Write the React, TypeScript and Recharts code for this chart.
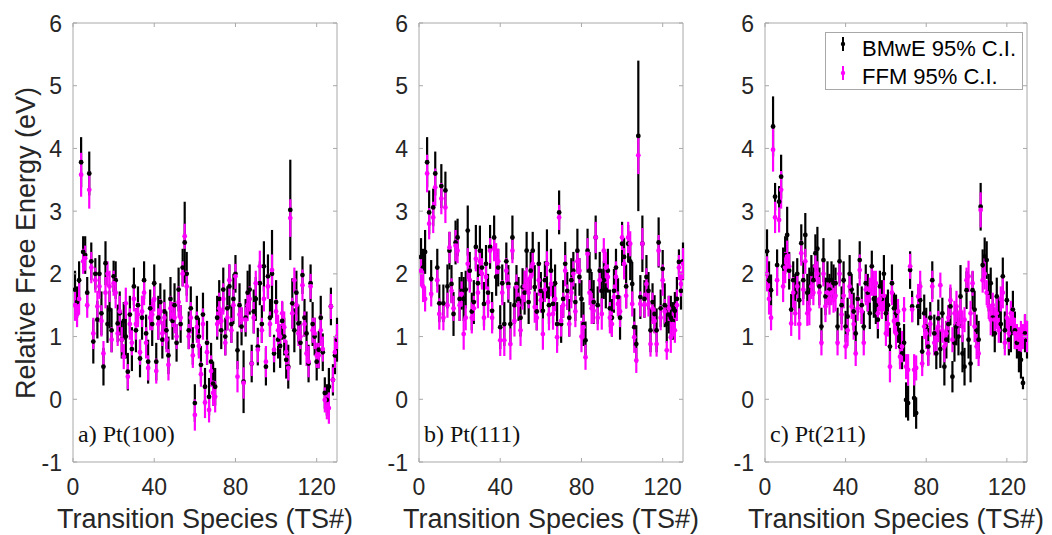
import { ScatterChart, Scatter, XAxis, YAxis, ErrorBar, ReferenceArea, Legend } from 'recharts';

// tick labels, panel names, legend names
const xTicks = [0, 40, 80, 120];
const yTicks = [-1, 0, 1, 2, 3, 4, 5, 6];
const panelNames = ['a) Pt(100)', 'b) Pt(111)', 'c) Pt(211)'];
const seriesNames = ['BMwE 95% C.I.', 'FFM 95% C.I.'];

// Pt(100)
const bmwe100 = [
  1.75, 1.55, 1.9, 3.78, 2.35, 2.3, 1.7, 3.6, 2.2, 0.92,
  2.0, 1.27, 2.0, 1.37, 0.52, 2.17, 1.2, 1.43, 1.1, 1.96,
  1.9, 1.21, 1.37, 0.95, 1.25, 1.0, 0.44, 1.35, 0.8, 1.8,
  1.1, 1.5, 0.65, 1.3, 1.9, 1.05, 0.6, 1.45, 1.2, 1.85,
  0.6, 1.3, 1.55, 0.95, 1.4, 1.1, 0.7, 1.6, 1.25, 1.5,
  0.9, 1.75, 1.2, 2.1, 2.5, 2.0, 1.1, 1.45, 0.85, -0.06,
  1.3, 1.0, 0.55, 1.35, 0.2, 0.9, 0.04, 0.6, 0.25, 0.2,
  1.3, 1.6, 1.1, 1.75, 1.0, 1.45, 1.8, 1.2, 1.6, 2.0,
  0.78, 1.5, 1.16, 0.28, 1.3, 1.7, 1.75, 0.57, 1.4, 1.6,
  0.84, 1.85, 1.2, 2.12, 0.52, 1.96, 1.3, 2.0, 0.73, 1.55,
  0.95, 0.85, 1.25, 1.0, 0.63, 0.52, 3.02, 1.53, 1.1, 1.7,
  1.21, 0.9, 1.98, 1.3, 1.05, 0.57, 1.85, 1.2, 1.0, 0.6,
  0.79, 1.3, 0.75, 0.1, -0.01, 0.2, 1.48, 0.31, 0.7, 0.95,
];
const ffm100 = [
  1.5, 1.35, 1.6, 3.58, 2.2, 2.25, 1.5, 3.34, 2.1, 1.05,
  1.9, 1.48, 1.8, 1.25, 0.73, 1.7, 2.0, 1.8, 0.95, 1.85,
  1.7, 1.05, 1.4, 0.95, 0.68, 1.53, 0.36, 1.2, 0.9, 1.6,
  1.2, 1.35, 0.75, 1.4, 1.7, 0.9, 0.5, 1.3, 1.35, 1.6,
  0.45, 1.2, 1.4, 1.05, 1.3, 0.95, 0.55, 1.45, 1.35, 1.3,
  1.0, 1.55, 1.3, 2.0, 2.6, 1.8, 1.0, 1.3, 0.7, -0.25,
  1.15, 0.85, 0.4, 1.2, -0.05, 0.75, -0.17, 0.45, 0.1, 0.04,
  1.2, 1.45, 1.25, 1.6, 0.9, 1.3, 1.9, 1.1, 1.5, 1.96,
  0.36, 1.35, 1.27, 0.26, 1.27, 1.5, 1.6, 0.57, 1.3, 1.85,
  0.79, 2.12, 1.1, 1.6, 0.6, 1.8, 1.2, 2.06, 0.79, 1.4,
  1.1, 1.0, 1.37, 1.15, 0.75, 0.5, 2.89, 1.37, 1.9, 1.5,
  1.05, 1.0, 1.82, 1.2, 0.73, 0.6, 1.8, 1.1, 1.05, 0.7,
  0.7, 1.1, 0.8, -0.01, -0.12, -0.14, 1.48, 0.31, 0.75, 1.0,
];
const bmwe100Err = [
  0.3, 0.25, 0.3, 0.4, 0.25, 0.3, 0.25, 0.35, 0.3, 0.35,
  0.25, 0.3, 0.3, 0.35, 0.3, 0.35, 0.3, 0.3, 0.35, 0.25,
  0.3, 0.3, 0.35, 0.3, 0.3, 0.35, 0.3, 0.3, 0.35, 0.3,
  0.35, 0.3, 0.3, 0.35, 0.3, 0.3, 0.35, 0.3, 0.35, 0.3,
  0.3, 0.35, 0.3, 0.3, 0.35, 0.3, 0.3, 0.35, 0.3, 0.35,
  0.3, 0.35, 0.3, 0.3, 0.65, 0.35, 0.3, 0.35, 0.3, 0.3,
  0.35, 0.3, 0.3, 0.35, 0.3, 0.35, 0.3, 0.3, 0.35, 0.3,
  0.35, 0.3, 0.3, 0.35, 0.3, 0.35, 0.35, 0.3, 0.4, 0.3,
  0.3, 0.35, 0.3, 0.5, 0.3, 0.35, 0.4, 0.3, 0.35, 0.35,
  0.3, 0.35, 0.3, 0.4, 0.3, 0.35, 0.3, 0.7, 0.3, 0.35,
  0.3, 0.35, 0.3, 0.3, 0.3, 0.35, 0.8, 0.4, 0.35, 0.35,
  0.3, 0.35, 0.3, 0.3, 0.35, 0.3, 0.3, 0.35, 0.3, 0.3,
  0.3, 0.35, 0.3, 0.25, 0.25, 0.3, 0.3, 0.25, 0.3, 0.35,
];
const ffm100Err = [
  0.25, 0.2, 0.25, 0.35, 0.2, 0.2, 0.2, 0.3, 0.25, 0.25,
  0.2, 0.25, 0.2, 0.25, 0.2, 0.25, 0.2, 0.25, 0.2, 0.2,
  0.25, 0.2, 0.25, 0.2, 0.2, 0.25, 0.2, 0.25, 0.2, 0.2,
  0.25, 0.2, 0.2, 0.25, 0.2, 0.25, 0.2, 0.2, 0.25, 0.2,
  0.2, 0.25, 0.2, 0.2, 0.25, 0.2, 0.25, 0.2, 0.2, 0.25,
  0.2, 0.25, 0.2, 0.2, 0.2, 0.25, 0.2, 0.25, 0.2, 0.25,
  0.25, 0.2, 0.2, 0.25, 0.25, 0.2, 0.2, 0.25, 0.2, 0.25,
  0.2, 0.25, 0.2, 0.25, 0.2, 0.2, 0.25, 0.2, 0.25, 0.2,
  0.25, 0.2, 0.2, 0.25, 0.2, 0.25, 0.2, 0.2, 0.25, 0.2,
  0.2, 0.25, 0.2, 0.2, 0.25, 0.2, 0.2, 0.25, 0.2, 0.2,
  0.25, 0.2, 0.2, 0.25, 0.2, 0.2, 0.3, 0.25, 0.2, 0.25,
  0.2, 0.2, 0.25, 0.2, 0.2, 0.25, 0.2, 0.2, 0.25, 0.2,
  0.2, 0.25, 0.2, 0.2, 0.2, 0.25, 0.2, 0.2, 0.25, 0.2,
];

// Pt(111)
const bmwe111 = [
  2.27, 2.1, 2.35, 3.78, 2.98, 1.92, 3.06, 3.6, 2.1, 1.53,
  3.4, 1.53, 3.33, 1.8, 2.37, 1.84, 1.36, 2.5, 2.58, 1.6,
  1.73, 1.6, 1.75, 2.69, 2.05, 1.4, 1.55, 2.43, 1.85, 2.37,
  2.1, 1.52, 2.16, 1.7, 2.43, 1.41, 2.58, 1.95, 2.1, 1.15,
  1.85, 1.2, 2.2, 1.84, 1.2, 2.58, 1.5, 1.84, 1.6, 1.3,
  1.79, 1.7, 2.37, 1.55, 2.05, 2.37, 1.79, 1.4, 2.16, 1.73,
  1.41, 1.9, 2.16, 1.5, 2.05, 1.52, 1.85, 1.2, 2.98, 1.2,
  1.6, 2.16, 1.73, 1.3, 1.9, 2.05, 1.55, 2.37, 1.95, 1.6,
  1.2, 0.94, 2.37, 2.05, 1.73, 1.55, 2.58, 1.5, 2.05, 1.73,
  1.9, 1.75, 2.05, 1.45, 1.3, 1.73, 2.1, 1.63, 1.3, 2.48,
  2.27, 1.8, 2.48, 2.2, 1.84, 1.15, 0.88, 4.2, 1.63, 2.48,
  1.6, 1.95, 1.73, 1.1, 1.55, 1.36, 1.1, 2.5, 1.45, 2.08,
  1.5, 1.2, 1.35, 1.3, 1.25, 1.41, 1.6, 2.19, 1.73, 2.2,
];
const ffm111 = [
  2.05, 1.8, 1.6, 3.6, 2.8, 1.68, 2.9, 3.38, 1.9, 1.36,
  3.2, 1.3, 3.06, 1.5, 2.42, 1.73, 1.45, 2.45, 2.37, 1.5,
  1.68, 1.04, 1.3, 2.16, 1.9, 1.3, 1.45, 2.24, 1.7, 2.2,
  2.0, 1.3, 1.95, 1.55, 2.37, 1.3, 2.4, 2.24, 2.2, 0.94,
  1.7, 0.94, 2.05, 1.79, 0.88, 2.37, 1.25, 1.79, 1.5, 1.1,
  1.63, 1.8, 1.9, 1.7, 1.95, 2.16, 1.47, 1.3, 1.9, 1.58,
  1.04, 1.75, 2.16, 1.35, 1.84, 1.36, 1.6, 0.99, 2.9, 1.25,
  1.5, 2.05, 1.63, 1.2, 1.7, 2.0, 1.4, 2.2, 2.05, 1.0,
  1.15, 0.67, 2.32, 1.7, 1.45, 1.41, 2.58, 1.3, 1.9, 1.36,
  2.37, 2.1, 1.95, 1.3, 1.2, 1.63, 1.95, 1.52, 1.4, 2.58,
  2.16, 1.65, 2.58, 2.48, 1.52, 0.99, 0.62, 3.89, 1.52, 2.48,
  1.5, 1.84, 1.52, 0.88, 1.45, 1.25, 0.88, 2.37, 1.3, 1.9,
  1.4, 0.78, 1.45, 0.99, 1.2, 1.1, 1.5, 2.1, 1.84, 2.16,
];
const bmwe111Err = [
  0.3, 0.3, 0.35, 0.4, 0.35, 0.3, 0.3, 0.35, 0.3, 0.3,
  0.35, 0.3, 0.3, 0.35, 0.3, 0.3, 0.35, 0.35, 0.3, 0.35,
  0.3, 0.35, 0.3, 0.4, 0.3, 0.3, 0.35, 0.35, 0.3, 0.4,
  0.3, 0.35, 0.3, 0.3, 0.35, 0.3, 0.35, 0.3, 0.3, 0.35,
  0.3, 0.35, 0.3, 0.3, 0.35, 0.35, 0.3, 0.3, 0.35, 0.3,
  0.3, 0.35, 0.3, 0.35, 0.3, 0.3, 0.35, 0.3, 0.35, 0.3,
  0.35, 0.3, 0.55, 0.3, 0.35, 0.3, 0.3, 0.35, 0.35, 0.3,
  0.3, 0.35, 0.3, 0.3, 0.35, 0.3, 0.3, 0.35, 0.3, 0.3,
  0.35, 0.3, 0.35, 0.3, 0.3, 0.35, 0.35, 0.3, 0.3, 0.35,
  0.3, 0.3, 0.35, 0.3, 0.3, 0.35, 0.3, 0.3, 0.35, 0.35,
  0.3, 0.35, 0.3, 0.3, 0.35, 0.3, 0.3, 1.2, 0.35, 0.45,
  0.3, 0.35, 0.3, 0.35, 0.3, 0.3, 0.35, 0.4, 0.3, 0.3,
  0.35, 0.3, 0.3, 0.35, 0.3, 0.3, 0.35, 0.2, 0.3, 0.3,
];
const ffm111Err = [
  0.25, 0.25, 0.2, 0.3, 0.25, 0.2, 0.25, 0.3, 0.2, 0.25,
  0.25, 0.2, 0.25, 0.2, 0.25, 0.2, 0.2, 0.25, 0.2, 0.25,
  0.2, 0.25, 0.2, 0.25, 0.2, 0.25, 0.2, 0.2, 0.25, 0.2,
  0.25, 0.2, 0.2, 0.25, 0.2, 0.25, 0.2, 0.25, 0.2, 0.25,
  0.2, 0.25, 0.2, 0.2, 0.25, 0.2, 0.25, 0.2, 0.2, 0.25,
  0.2, 0.25, 0.2, 0.25, 0.2, 0.2, 0.25, 0.2, 0.25, 0.2,
  0.25, 0.2, 0.2, 0.25, 0.2, 0.25, 0.2, 0.25, 0.2, 0.25,
  0.2, 0.25, 0.2, 0.2, 0.25, 0.2, 0.25, 0.2, 0.2, 0.25,
  0.2, 0.2, 0.25, 0.2, 0.25, 0.2, 0.25, 0.2, 0.2, 0.25,
  0.2, 0.25, 0.2, 0.25, 0.2, 0.2, 0.25, 0.2, 0.25, 0.2,
  0.25, 0.2, 0.25, 0.2, 0.2, 0.25, 0.2, 0.3, 0.2, 0.25,
  0.2, 0.25, 0.2, 0.2, 0.25, 0.2, 0.2, 0.25, 0.2, 0.25,
  0.2, 0.15, 0.2, 0.25, 0.2, 0.2, 0.25, 0.2, 0.2, 0.25,
];

// Pt(211)
const bmwe211 = [
  2.36, 1.9, 1.74, 4.35, 3.23, 2.14, 3.15, 3.55, 2.12, 2.3,
  2.62, 2.05, 1.43, 1.9, 1.7, 2.0, 1.58, 2.49, 1.9, 2.62,
  1.7, 1.8, 2.0, 1.9, 2.33, 2.4, 1.8, 1.16, 2.22, 1.64,
  1.9, 1.75, 1.9, 1.85, 1.85, 1.16, 2.2, 1.5, 1.9, 1.16,
  1.32, 2.0, 1.75, 1.4, 1.05, 1.6, 2.22, 1.5, 1.16, 1.85,
  1.7, 1.37, 2.12, 1.6, 1.5, 1.27, 1.8, 1.6, 2.0, 1.37,
  1.5, 0.84, 1.85, 1.45, 1.37, 1.2, 0.84, 0.73, 0.9, -0.01,
  -0.06, 2.06, 1.48, 0.02, -0.22, 1.48, 1.58, 0.76, 1.37, 1.16,
  0.84, 1.3, 1.9, 1.05, 0.73, 1.29, 0.8, 1.37, 0.52, 0.95,
  1.2, 1.48, 0.36, 0.9, 1.16, 1.0, 1.64, 0.73, 0.52, 1.74,
  0.95, 0.57, 1.74, 1.43, 1.1, 0.95, 3.07, 2.14, 2.28, 2.22,
  1.7, 1.85, 1.3, 1.05, 1.64, 1.37, 1.2, 1.96, 1.1, 1.58,
  0.95, 1.05, 1.43, 1.1, 0.9, 0.73, 0.63, 0.26, 1.05, 0.95,
];
const ffm211 = [
  2.0, 1.6, 1.3, 3.98, 2.9, 1.9, 2.86, 3.34, 1.8, 2.1,
  2.28, 2.12, 1.21, 1.7, 1.37, 1.8, 1.2, 2.33, 1.75, 2.2,
  1.37, 1.43, 1.8, 1.7, 2.12, 2.0, 1.7, 0.9, 2.0, 1.48,
  1.7, 1.6, 1.7, 1.58, 1.65, 0.9, 2.0, 1.35, 1.65, 0.84,
  1.1, 1.8, 1.48, 1.2, 0.73, 1.45, 2.06, 1.4, 0.9, 1.75,
  1.6, 1.74, 1.9, 1.85, 1.85, 1.37, 1.6, 1.48, 1.65, 1.05,
  1.2, 0.52, 1.7, 1.25, 1.05, 1.4, 0.68, 0.84, 1.43, 0.52,
  0.47, 2.12, 1.43, 0.47, 0.5, 1.64, 1.8, 0.57, 1.16, 1.05,
  0.73, 1.2, 1.8, 0.9, 0.95, 1.16, 1.82, 1.1, 0.84, 1.05,
  1.3, 1.58, 0.95, 1.37, 1.48, 1.2, 1.4, 1.16, 1.27, 1.9,
  1.96, 1.37, 1.85, 1.16, 0.84, 0.73, 3.02, 1.9, 2.0, 1.7,
  1.48, 1.27, 1.5, 1.27, 1.37, 1.1, 1.6, 1.7, 0.9, 1.3,
  1.05, 1.37, 1.27, 1.05, 1.0, 0.95, 1.0, 1.0, 1.16, 1.0,
];
const bmwe211Err = [
  0.35, 0.3, 0.25, 0.48, 0.22, 0.25, 0.25, 0.35, 0.3, 0.3,
  0.45, 0.3, 0.25, 0.3, 0.3, 0.25, 0.3, 0.3, 0.3, 0.35,
  0.3, 0.3, 0.3, 0.25, 0.3, 0.35, 0.3, 0.3, 0.35, 0.3,
  0.3, 0.25, 0.3, 0.3, 0.25, 0.3, 0.35, 0.3, 0.3, 0.25,
  0.3, 0.3, 0.25, 0.3, 0.3, 0.25, 0.3, 0.3, 0.25, 0.3,
  0.3, 0.25, 0.25, 0.3, 0.3, 0.3, 0.25, 0.3, 0.3, 0.3,
  0.25, 0.3, 0.3, 0.25, 0.3, 0.3, 0.3, 0.25, 0.3, 0.28,
  0.28, 0.3, 0.25, 0.3, 0.25, 0.3, 0.3, 0.25, 0.3, 0.3,
  0.3, 0.25, 0.3, 0.3, 0.25, 0.3, 0.3, 0.25, 0.3, 0.3,
  0.3, 0.3, 0.25, 0.3, 0.3, 0.3, 0.5, 0.3, 0.3, 0.3,
  0.3, 0.3, 0.3, 0.3, 0.25, 0.3, 0.38, 0.25, 0.3, 0.3,
  0.3, 0.25, 0.3, 0.3, 0.3, 0.25, 0.3, 0.3, 0.3, 0.3,
  0.25, 0.3, 0.3, 0.3, 0.25, 0.3, 0.3, 0.1, 0.3, 0.3,
];
const ffm211Err = [
  0.28, 0.25, 0.2, 0.35, 0.25, 0.25, 0.2, 0.3, 0.25, 0.25,
  0.25, 0.2, 0.2, 0.25, 0.2, 0.2, 0.25, 0.2, 0.25, 0.2,
  0.2, 0.25, 0.2, 0.2, 0.25, 0.2, 0.25, 0.2, 0.2, 0.25,
  0.2, 0.25, 0.2, 0.2, 0.25, 0.2, 0.2, 0.25, 0.2, 0.2,
  0.25, 0.2, 0.2, 0.25, 0.2, 0.2, 0.25, 0.2, 0.2, 0.25,
  0.2, 0.2, 0.25, 0.2, 0.2, 0.25, 0.2, 0.2, 0.25, 0.2,
  0.2, 0.25, 0.2, 0.2, 0.25, 0.2, 0.2, 0.25, 0.2, 0.2,
  0.25, 0.2, 0.2, 0.25, 0.2, 0.2, 0.25, 0.2, 0.2, 0.25,
  0.2, 0.2, 0.25, 0.2, 0.2, 0.25, 0.2, 0.2, 0.25, 0.2,
  0.2, 0.25, 0.2, 0.2, 0.25, 0.2, 0.2, 0.25, 0.2, 0.2,
  0.25, 0.2, 0.2, 0.25, 0.2, 0.2, 0.28, 0.2, 0.25, 0.2,
  0.2, 0.25, 0.2, 0.2, 0.25, 0.2, 0.2, 0.25, 0.2, 0.2,
  0.25, 0.2, 0.2, 0.25, 0.2, 0.2, 0.25, 0.2, 0.2, 0.25,
];

const AXIS = '#a8a8a8';
const TEXT = '#262626';
const BLACK = '#000000';
const MAGENTA = '#ff00ff';
const SANS = '"Liberation Sans", Arial, Helvetica, sans-serif';
const SERIF = '"Liberation Serif", "Times New Roman", serif';

const CH_HEIGHT = 535;
const CH_WIDTH = 380; // wider than the panel step so the axis titles are not clipped
const PLOT_TOP = 23;
const PLOT_BOTTOM = 462;
const Y_AXIS_W = 73;

const toPoints = (vals: number[], errs: number[]) =>
  vals.map((v, i) => ({ x: i + 1, y: v, e: errs[i] }));

// plot width 264 (last panel 262)
const panels = [
  { left: 0, plotW: 264, b: toPoints(bmwe100, bmwe100Err), f: toPoints(ffm100, ffm100Err) },
  { left: 346, plotW: 264, b: toPoints(bmwe111, bmwe111Err), f: toPoints(ffm111, ffm111Err) },
  { left: 692, plotW: 262, b: toPoints(bmwe211, bmwe211Err), f: toPoints(ffm211, ffm211Err) },
];

const dot = (color: string) => (p: any) => <circle cx={p.cx} cy={p.cy} r={2.4} fill={color} />;

function LegendBox() {
  const colors = [BLACK, MAGENTA];
  return (
    <svg width={198} height={58} style={{ display: 'block' }}>
      <rect x={0.5} y={0.5} width={197} height={57} fill="#fff" stroke={AXIS} />
      {seriesNames.map((name, i) => {
        const cy = 12 + i * 29;
        return (
          <g key={name}>
            <line x1={18} x2={18} y1={cy - 7} y2={cy + 7} stroke={colors[i]} strokeWidth={2} />
            <circle cx={18} cy={cy} r={2.2} fill={colors[i]} />
            <text x={37} y={24 + i * 28} fontSize={22} fontFamily={SANS} fill="#000">
              {name}
            </text>
          </g>
        );
      })}
    </svg>
  );
}

function Panel({ idx }: { idx: number }) {
  const p = panels[idx];
  const plotL = Y_AXIS_W;
  const plotR = plotL + p.plotW;
  const rightMargin = CH_WIDTH - plotR;

  const yTick = (t: any) => (
    <g>
      <line x1={plotL} x2={plotL + 4} y1={t.y} y2={t.y} stroke={AXIS} />
      <line x1={plotR - 4} x2={plotR} y1={t.y} y2={t.y} stroke={AXIS} />
      <text x={plotL - 11} y={t.y + 8.5} textAnchor="end" fontSize={23} fontFamily={SANS} fill={TEXT}>
        {t.payload.value}
      </text>
    </g>
  );
  const xTick = (t: any) => (
    <g>
      <line x1={t.x} x2={t.x} y1={PLOT_BOTTOM} y2={PLOT_BOTTOM - 4} stroke={AXIS} />
      <line x1={t.x} x2={t.x} y1={PLOT_TOP} y2={PLOT_TOP + 4} stroke={AXIS} />
      <text x={t.x} y={495} textAnchor="middle" fontSize={23} fontFamily={SANS} fill={TEXT}>
        {t.payload.value}
      </text>
    </g>
  );

  return (
    <div style={{ position: 'absolute', left: p.left, top: 0 }}>
      <ScatterChart
        width={CH_WIDTH}
        height={CH_HEIGHT}
        margin={{ top: PLOT_TOP, right: rightMargin, left: 0, bottom: 0 }}
      >
        <XAxis
          type="number"
          dataKey="x"
          domain={[0, 130]}
          ticks={xTicks}
          allowDataOverflow
          height={CH_HEIGHT - PLOT_BOTTOM}
          axisLine={false}
          tickLine={false}
          tick={xTick}
          label={() => (
            <text
              x={(plotL + plotR) / 2}
              y={528}
              textAnchor="middle"
              fontSize={27}
              fontFamily={SANS}
              fill={TEXT}
            >
              Transition Species (TS#)
            </text>
          )}
        />
        <YAxis
          type="number"
          dataKey="y"
          domain={[-1, 6]}
          ticks={yTicks}
          allowDataOverflow
          width={Y_AXIS_W}
          axisLine={false}
          tickLine={false}
          tick={yTick}
          label={
            idx === 0
              ? () => (
                  <text
                    x={26}
                    y={243}
                    transform="rotate(-90, 26, 243)"
                    textAnchor="middle"
                    dominantBaseline="central"
                    fontSize={27}
                    fontFamily={SANS}
                    fill={TEXT}
                  >
                    Relative Free Energy (eV)
                  </text>
                )
              : undefined
          }
        />
        <Scatter name={seriesNames[0]} data={p.b} fill={BLACK} shape={dot(BLACK)} isAnimationActive={false}>
          <ErrorBar dataKey="e" direction="y" width={0} stroke={BLACK} strokeWidth={2.2} isAnimationActive={false} />
        </Scatter>
        <Scatter name={seriesNames[1]} data={p.f} fill={MAGENTA} shape={dot(MAGENTA)} isAnimationActive={false}>
          <ErrorBar dataKey="e" direction="y" width={0} stroke={MAGENTA} strokeWidth={2.2} isAnimationActive={false} />
        </Scatter>
        <ReferenceArea
          x1={0}
          x2={130}
          y1={-1}
          y2={6}
          fill="none"
          stroke={AXIS}
          strokeWidth={1}
          label={(lp: any) => (
            <text
              x={lp.viewBox.x + 5}
              y={lp.viewBox.y + lp.viewBox.height - 20}
              fontSize={24}
              fontFamily={SERIF}
              fill="#111"
            >
              {panelNames[idx]}
            </text>
          )}
        />
        {idx === 2 && (
          <Legend
            layout="horizontal"
            verticalAlign="middle"
            align="center"
            wrapperStyle={{ position: 'absolute', left: 133, top: 32, width: 198, height: 58 }}
            content={() => <LegendBox />}
          />
        )}
      </ScatterChart>
    </div>
  );
}

export default function App() {
  return (
    <div
      style={{
        position: 'fixed',
        left: 0,
        top: 0,
        width: 1052,
        height: 535,
        background: '#fff',
        overflow: 'hidden',
      }}
    >
      <Panel idx={0} />
      <Panel idx={1} />
      <Panel idx={2} />
    </div>
  );
}
